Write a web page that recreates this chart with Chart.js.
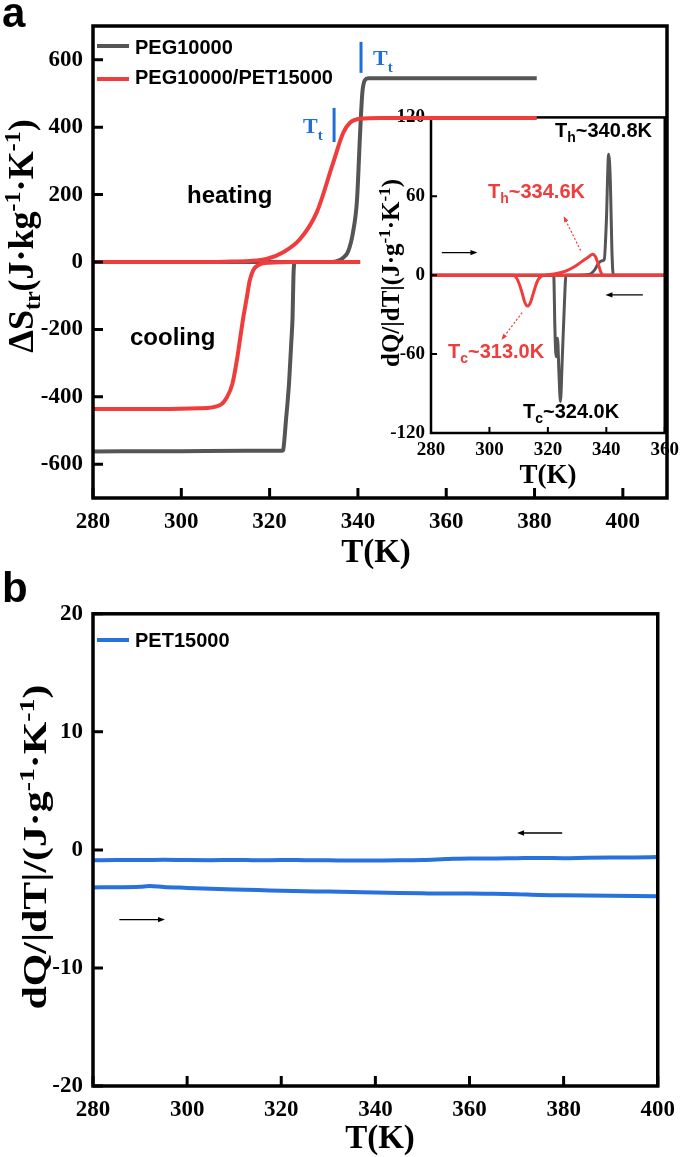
<!DOCTYPE html>
<html><head><meta charset="utf-8">
<script src="https://cdn.jsdelivr.net/npm/chart.js@4.4.1/dist/chart.umd.min.js"></script>
<style>
html,body{margin:0;padding:0;background:#fff;}
#page{position:relative;width:685px;height:1157px;overflow:hidden;background:#fff;}
canvas{position:absolute;}
svg{position:absolute;left:0;top:0;z-index:5;}
</style></head><body>
<div id="page">
<canvas id="inset" width="325" height="360" style="left:360px;top:100px;z-index:1"></canvas>
<canvas id="main" width="685" height="580" style="left:0;top:0;z-index:2"></canvas>
<canvas id="pet" width="685" height="567" style="left:0;top:590px;z-index:2"></canvas>
<svg width="685" height="1157" font-weight="bold">
  <g font-family="'Liberation Sans', Arial, sans-serif">
    <text x="2" y="27" font-size="42">a</text>
    <text x="2" y="602" font-size="42">b</text>
    <line x1="97" y1="46" x2="129" y2="46" stroke="#555555" stroke-width="4"/>
    <text x="135" y="54" font-size="20">PEG10000</text>
    <line x1="97" y1="79" x2="129" y2="79" stroke="#f03c3c" stroke-width="4"/>
    <text x="135" y="84" font-size="20">PEG10000/PET15000</text>
    <text x="187" y="203" font-size="24">heating</text>
    <text x="130" y="345" font-size="24">cooling</text>
    <text x="555" y="137" font-size="20">T<tspan dy="5" font-size="14">h</tspan><tspan dy="-5">~340.8K</tspan></text>
    <text x="488" y="198" font-size="20" fill="#f03c3c">T<tspan dy="5" font-size="14">h</tspan><tspan dy="-5">~334.6K</tspan></text>
    <text x="448" y="358" font-size="20" fill="#f03c3c">T<tspan dy="5" font-size="14">c</tspan><tspan dy="-5">~313.0K</tspan></text>
    <text x="523" y="418" font-size="20">T<tspan dy="5" font-size="14">c</tspan><tspan dy="-5">~324.0K</tspan></text>
    <line x1="97" y1="640" x2="129" y2="640" stroke="#2872de" stroke-width="4"/>
    <text x="135" y="647" font-size="20">PET15000</text>
  </g>
  <g font-family="'Liberation Serif', 'Times New Roman', serif">
    <text x="373" y="65" font-size="22" fill="#1f6fd8">T<tspan dy="7" font-size="15">t</tspan></text>
    <text x="303" y="133" font-size="22" fill="#1f6fd8">T<tspan dy="7" font-size="15">t</tspan></text>
    <text x="376" y="562" font-size="33" text-anchor="middle">T(K)</text>
    <text x="548" y="483" font-size="27" text-anchor="middle">T(K)</text>
    <text x="380" y="1148" font-size="33" text-anchor="middle">T(K)</text>
    <text transform="translate(33,236) rotate(-90)" font-size="36" text-anchor="middle">ΔS<tspan dy="7" font-size="24">tr</tspan><tspan dy="-7">(J·kg</tspan><tspan dy="-13" font-size="24">-1</tspan><tspan dy="13">·K</tspan><tspan dy="-13" font-size="24">-1</tspan><tspan dy="13">)</tspan></text>
    <text transform="translate(399,273) rotate(-90)" font-size="25" text-anchor="middle">dQ/|dT|(J·g<tspan dy="-9" font-size="17">-1</tspan><tspan dy="9">·K</tspan><tspan dy="-9" font-size="17">-1</tspan><tspan dy="9">)</tspan></text>
    <text transform="translate(46,847) rotate(-90)" font-size="33" text-anchor="middle" textLength="325" lengthAdjust="spacingAndGlyphs">dQ/|dT|/(J·g<tspan dy="-12" font-size="22">-1</tspan><tspan dy="12">·K</tspan><tspan dy="-12" font-size="22">-1</tspan><tspan dy="12">)</tspan></text>
  </g>
</svg>
</div>
<script>
// ---------- tick values ----------
const mainTicksX = [280, 300, 320, 340, 360, 380, 400];
const mainTicksY = [-600, -400, -200, 0, 200, 400, 600];
const insetTicksX = [280, 300, 320, 340, 360];
const insetTicksY = [-120, -60, 0, 60, 120];
const petTicksX = [280, 300, 320, 340, 360, 380, 400];
const petTicksY = [-20, -10, 0, 10, 20];

// ---------- panel a main: ΔS_tr vs T ----------
const pegHeatT = [280, 300, 320, 334, 335.4, 336.6, 337.8, 338.9, 339.8, 340.5, 341.0, 341.6, 342.3, 350, 365, 380.5];
const pegHeatS = [0, 0, 0, 0, 3, 12, 32, 89, 186, 384, 502, 540, 545, 545, 545, 545];
const pegCoolT = [280, 300, 315, 322.9, 323.1, 323.7, 324.4, 324.9, 325.2, 325.4, 325.7, 330, 340.5];
const pegCoolS = [-562, -561, -560, -560, -556, -470, -359, -240, -162, -40, 0, 0, 0];
const compHeatT = [280, 300, 310, 315.5, 319.3, 323.1, 326.9, 330.7, 334.4, 336.7, 338.2, 340.5, 345, 360, 380.5];
const compHeatS = [0, 0, 1, 3, 9, 29, 68, 148, 295, 384, 413, 425, 427, 427, 427];
const compCoolT = [280, 295, 304, 308.8, 310.3, 311.6, 312.6, 313.4, 314.1, 314.8, 315.5, 316.3, 317.6, 320, 325, 340.5];
const compCoolS = [-436, -436, -434, -424, -402, -360, -290, -220, -160, -108, -55, -24, -8, -2, 0, 0];

// ---------- panel a inset: dQ/|dT| vs T ----------
const pegHeatInT = [280, 330, 334, 336, 337.3, 338.5, 339.3, 340.0, 340.8, 341.4, 341.9, 342.4, 360];
const pegHeatInQ = [0, 0, 0.5, 4, 9, 11, 12, 40, 92, 70, 20, 0, 0];
const pegCoolInT = [280, 322.0, 322.4, 322.8, 323.3, 323.8, 324.3, 324.9, 325.6, 326.2, 360];
const pegCoolInQ = [0, 0, -40, -62, -48, -75, -96, -65, -25, 0, 0];
const compHeatInT = [280, 318, 322, 326, 329.5, 332, 334, 335.3, 336.3, 337.3, 338.2, 339, 360];
const compHeatInQ = [0, 0, 1, 3, 7, 11, 14, 16, 14, 8, 2, 0, 0];
const compCoolInT = [280, 308, 309.5, 311, 312, 313, 314, 315, 316.3, 317.6, 319, 360];
const compCoolInQ = [0, 0, -3, -12, -20, -23.5, -21, -14, -5, -1, 0, 0];

// ---------- panel b: PET15000 ----------
const petT = [280, 285, 290, 292, 295, 300, 305, 310, 315, 320, 325, 330, 335, 340, 345, 350, 355, 360, 365, 370, 375, 380, 385, 390, 395, 400];
const petCoolQ = [-0.88, -0.86, -0.86, -0.85, -0.84, -0.86, -0.87, -0.85, -0.88, -0.86, -0.87, -0.88, -0.90, -0.89, -0.88, -0.85, -0.78, -0.72, -0.72, -0.70, -0.68, -0.70, -0.67, -0.65, -0.64, -0.60];
const petHeatQ = [-3.18, -3.16, -3.12, -3.06, -3.14, -3.22, -3.30, -3.36, -3.40, -3.46, -3.50, -3.53, -3.57, -3.60, -3.65, -3.68, -3.70, -3.70, -3.72, -3.76, -3.82, -3.84, -3.86, -3.88, -3.90, -3.92];

// ---------- annotations (data coordinates) ----------
const BLUE = '#1f6fd8', RED = '#f03c3c', GRAY = '#555555', PETBLUE = '#2872de';
const mainMarks = [
  {x1: 340.7, y1: 561, x2: 340.7, y2: 653, color: BLUE, width: 3},
  {x1: 334.6, y1: 356, x2: 334.6, y2: 457, color: BLUE, width: 3}
];
const insetMarks = [
  {x1: 283.7, y1: 17.2, x2: 295.9, y2: 17.2, color: '#000', width: 1.3, head: 7},
  {x1: 352.5, y1: -15, x2: 339.7, y2: -15, color: '#000', width: 1.3, head: 7},
  {x1: 331.2, y1: 18.7, x2: 325.4, y2: 44.9, color: RED, width: 1.2, dash: [2, 2], head: 6},
  {x1: 311.2, y1: -28.4, x2: 304.1, y2: -49.3, color: RED, width: 1.2, dash: [2, 2], head: 6}
];
const petMarks = [
  {x1: 379.7, y1: 1.43, x2: 370.1, y2: 1.43, color: '#000', width: 1.3, head: 7},
  {x1: 285.6, y1: -5.9, x2: 295.3, y2: -5.9, color: '#000', width: 1.3, head: 7}
];

const SERIF = "'Liberation Serif', 'Times New Roman', serif";
const xy = (T, V) => T.map((t, i) => ({x: t, y: V[i]}));

const framePlugin = {
  id: 'frame',
  afterDatasetsDraw(chart, args, o) {
    const {ctx, chartArea: a, scales: {x, y}} = chart;
    ctx.save();
    ctx.strokeStyle = '#000';
    ctx.lineWidth = o.tickWidth;
    ctx.setLineDash([]);
    ctx.beginPath();
    x.ticks.forEach(t => { const p = x.getPixelForValue(t.value); ctx.moveTo(p, a.bottom); ctx.lineTo(p, a.bottom - o.tickLen); });
    y.ticks.forEach(t => { const p = y.getPixelForValue(t.value); ctx.moveTo(a.left, p); ctx.lineTo(a.left + o.tickLen, p); });
    ctx.stroke();
    ctx.lineWidth = o.frameWidth;
    ctx.strokeRect(a.left, a.top, a.right - a.left, a.bottom - a.top);
    ctx.restore();
  }
};
const marksPlugin = {
  id: 'marks',
  afterDatasetsDraw(chart, args, o) {
    const {ctx, scales: {x, y}} = chart;
    (o.items || []).forEach(m => {
      const x1 = x.getPixelForValue(m.x1), y1 = y.getPixelForValue(m.y1);
      const x2 = x.getPixelForValue(m.x2), y2 = y.getPixelForValue(m.y2);
      ctx.save();
      ctx.strokeStyle = m.color; ctx.fillStyle = m.color; ctx.lineWidth = m.width;
      ctx.setLineDash(m.dash || []);
      const ang = Math.atan2(y2 - y1, x2 - x1);
      const L = m.head || 0;
      ctx.beginPath(); ctx.moveTo(x1, y1);
      ctx.lineTo(x2 - L * 0.6 * Math.cos(ang), y2 - L * 0.6 * Math.sin(ang));
      ctx.stroke();
      if (L) {
        const W = L * 0.38;
        ctx.setLineDash([]);
        ctx.beginPath();
        ctx.moveTo(x2, y2);
        ctx.lineTo(x2 - L * Math.cos(ang) + W * Math.sin(ang), y2 - L * Math.sin(ang) - W * Math.cos(ang));
        ctx.lineTo(x2 - L * Math.cos(ang) - W * Math.sin(ang), y2 - L * Math.sin(ang) + W * Math.cos(ang));
        ctx.closePath(); ctx.fill();
      }
      ctx.restore();
    });
  }
};

function axis(min, max, ticks, size, fontSize, pad, horiz) {
  return {
    type: 'linear', min, max,
    afterBuildTicks: s => { s.ticks = ticks.map(v => ({value: v})); },
    afterFit: s => { if (horiz) s.height = size; else s.width = size; },
    grid: {display: false, drawTicks: false},
    border: {display: false},
    ticks: {padding: pad, color: '#000', autoSkip: false, maxRotation: 0,
      font: {family: SERIF, size: fontSize, weight: 'bold'}}
  };
}
function line(data, color, w) {
  return {data, borderColor: color, borderWidth: w, pointRadius: 0, fill: false,
    cubicInterpolationMode: 'monotone', borderJoinStyle: 'round', borderCapStyle: 'butt'};
}
function make(id, datasets, padding, xs, ys, frame, items) {
  return new Chart(document.getElementById(id), {
    type: 'line',
    data: {datasets},
    options: {
      responsive: false, animation: false, devicePixelRatio: 1,
      layout: {padding},
      plugins: {legend: {display: false}, tooltip: {enabled: false}, frame, marks: {items}},
      scales: {x: xs, y: ys}
    },
    plugins: [framePlugin, marksPlugin]
  });
}

make('inset', [
  line(xy(compHeatInT, compHeatInQ), RED, 3),
  line(xy(compCoolInT, compCoolInQ), RED, 3),
  line(xy(pegHeatInT, pegHeatInQ), GRAY, 3),
  line(xy(pegCoolInT, pegCoolInQ), GRAY, 3)
], {left: 0, top: 12, right: 18, bottom: 0},
  axis(280, 360, insetTicksX, 27, 19, 6, true),
  axis(-120, 120, insetTicksY, 71, 19, 6, false),
  {tickLen: 6, tickWidth: 2, frameWidth: 2.5}, insetMarks);

make('main', [
  line(xy(compHeatT, compHeatS), RED, 4),
  line(xy(compCoolT, compCoolS), RED, 4),
  line(xy(pegHeatT, pegHeatS), GRAY, 4),
  line(xy(pegCoolT, pegCoolS), GRAY, 4)
], {left: 0, top: 26, right: 18, bottom: 0},
  axis(280, 410, mainTicksX, 82, 23, 10, true),
  axis(-700, 700, mainTicksY, 93, 23, 10, false),
  {tickLen: 10, tickWidth: 3, frameWidth: 3.5}, mainMarks);

make('pet', [
  line(xy(petT, petCoolQ), PETBLUE, 4),
  line(xy(petT, petHeatQ), PETBLUE, 4)
], {left: 0, top: 22, right: 18, bottom: 0},
  axis(280, 400, petTicksX, 71, 23, 10, true),
  axis(-20, 20, petTicksY, 93, 23, 10, false),
  {tickLen: 10, tickWidth: 3, frameWidth: 3.5}, petMarks);
</script>
</body></html>
